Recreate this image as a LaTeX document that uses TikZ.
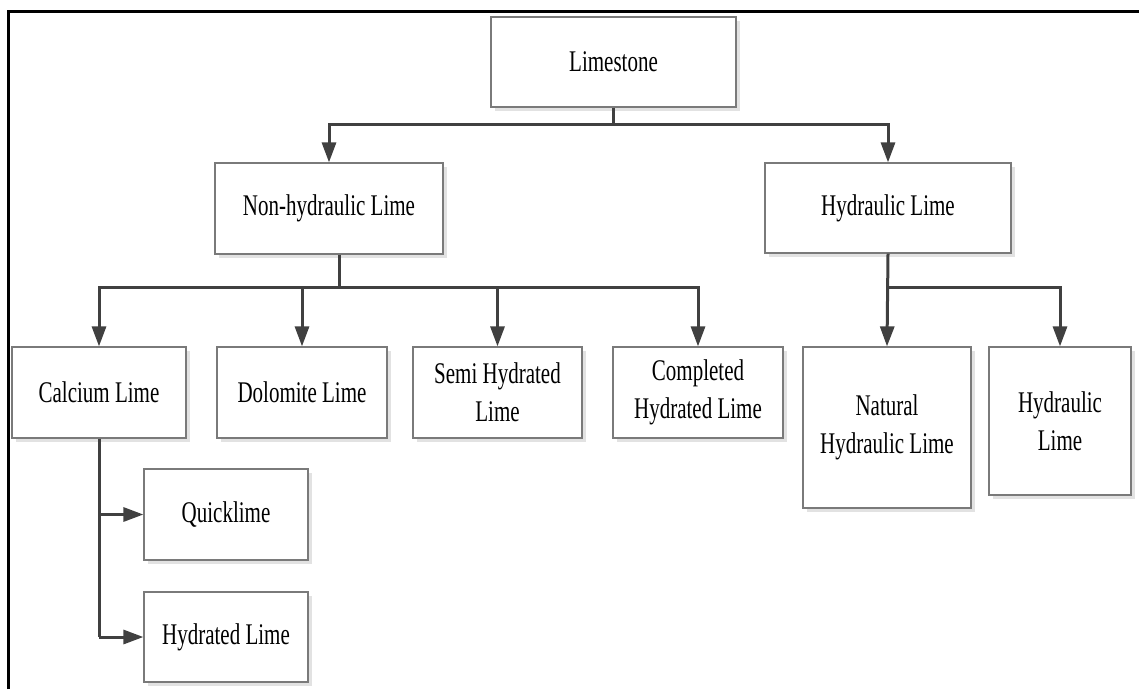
\documentclass[tikz,border=0pt]{standalone}
\usepackage{fontspec}
\setmainfont{Liberation Serif}[FakeStretch=0.70]
\usetikzlibrary{arrows.meta,shadows}
\definecolor{boxline}{HTML}{7A7A7A}
\definecolor{connline}{HTML}{404040}
\definecolor{shade}{HTML}{E2E2E2}
\begin{document}
\begin{tikzpicture}[x=1pt,y=-1pt,
  box/.style={draw=boxline, line width=1.2pt, fill=white, inner sep=0pt,
    align=center, font=\fontsize{30}{38}\selectfont,
    drop shadow={shadow xshift=4pt, shadow yshift=-4pt, fill=shade, opacity=1}},
  conn/.style={draw=connline, line width=3pt},
  arr/.style={conn, -{Triangle[length=20pt,width=14pt]}}]
\useasboundingbox (0,0) rectangle (1139,689);

% outer frame (left and top edges)
\draw[line width=3pt] (8,689) -- (8,11) -- (1139,11);

% boxes
\node[box, minimum width=245pt, minimum height=90pt] (lime) at (613.5,62) {Limestone};
\node[box, minimum width=228pt, minimum height=91pt] (nonhyd) at (329,208.5) {Non-hydraulic Lime};
\node[box, minimum width=246pt, minimum height=90pt] (hyd) at (888,208) {Hydraulic Lime};
\node[box, minimum width=174pt, minimum height=91pt] (calcium) at (99,392.5) {Calcium Lime};
\node[box, minimum width=170pt, minimum height=91pt] (dolomite) at (302,392.5) {Dolomite Lime};
\node[box, minimum width=169pt, minimum height=91pt] (semi) at (497.5,392.5) {Semi Hydrated\\Lime};
\node[box, minimum width=170pt, minimum height=91pt] (completed) at (698,392.5) {Completed\\Hydrated Lime};
\node[box, minimum width=168pt, minimum height=161pt] (natural) at (887,427.5) {Natural\\Hydraulic Lime};
\node[box, minimum width=142pt, minimum height=148pt] (hydlime) at (1060,421) {Hydraulic\\Lime};
\node[box, minimum width=164pt, minimum height=91pt] (quick) at (226,514.5) {Quicklime};
\node[box, minimum width=164pt, minimum height=90pt] (hydrated) at (226,637) {Hydrated Lime};

% junction points of the connectors
\coordinate (j1) at (613.5,124);
\coordinate (j2) at (339,287);
\coordinate (j3) at (887,287);

% Limestone to its two kinds
\draw[conn] (lime.south) -- (j1);
\draw[arr] (j1) -| (nonhyd.north);
\draw[arr] (j1) -| (hyd.north);

% non-hydraulic lime branches
\draw[conn] (j2 |- nonhyd.south) -- (j2);
\draw[arr] (j2) -| (calcium.north);
\draw[arr] (j2) -| (dolomite.north);
\draw[arr] (j2) -| (semi.north);
\draw[arr] (j2) -| (completed.north);

% hydraulic lime branches
\draw[arr] (hyd.south) -- (natural.north);
\draw[arr] (j3) -| (hydlime.north);

% calcium lime branches
\draw[conn] (calcium.south) -- (calcium.south |- hydrated.west);
\draw[arr] (calcium.south |- quick.west) -- (quick.west);
\draw[arr] (calcium.south |- hydrated.west) -- (hydrated.west);
\end{tikzpicture}
\end{document}
